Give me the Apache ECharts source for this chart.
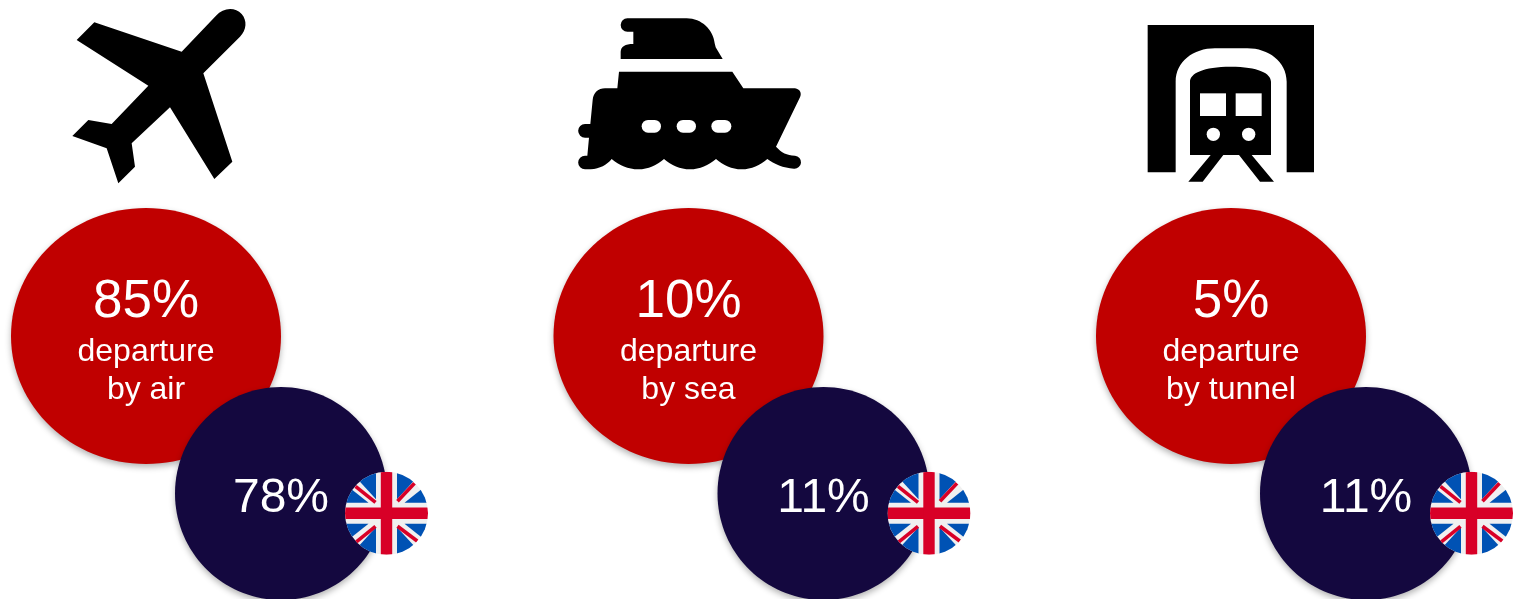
<!DOCTYPE html>
<html>
<head>
<meta charset="utf-8">
<style>html,body{margin:0;padding:0;background:#fff}#chart{width:1515px;height:599px}</style>
<script src="https://cdn.jsdelivr.net/npm/echarts@6/dist/echarts.min.js"></script>
</head>
<body>
<div id="chart"></div>
<script>
// Departure share by mode of transport, with the UK share of each mode
const modes = ['air', 'sea', 'tunnel'];
const departureShare = [85, 10, 5];
const ukShare = [78, 11, 11];

const RED = '#C00000', NAVY = '#14083F', FONT = '"Liberation Sans", Arial, sans-serif';

// Icon outlines, drawn on a 3x working grid
const planePath = 'M103,67 L365,155 L468,47 C490,22 525,20 545,42 C562,62 560,90 540,110 L430,220 L517,485 L463,537 L330,322 L215,430 L225,500 L175,550 L140,445 L37,408 L85,360 L155,372 L265,257 L50,120 Z';
const shipCabinPath = 'M172,25 L350,25 C395,25 430,60 434,100 L437,112 L458,147 L152,147 L152,125 C153,110 165,102 190,102 L190,65 L172,65 A20,20 0 0 1 172,25 Z';
const shipHullPath = 'M147,185 L487,185 L520,235 L675,235 C690,237 696,250 690,262 L618,410 C635,428 650,436 675,437 A19,19 0 0 1 672,476 C640,474 612,462 592,447 C570,466 545,478 515,478 C485,478 460,466 438,447 C415,466 390,478 360,478 C330,478 304,466 282,447 C260,466 235,478 205,478 C175,478 147,466 125,447 C110,465 90,476 62,478 L45,478 A20,20 0 0 1 45,437 L52,437 L57,383 L45,383 A20,20 0 0 1 45,342 L61,342 L68,270 C70,248 85,235 105,235 L142,235 Z';
const tunnelPath = 'M23,30 L522,30 L522,472 L440,472 L440,200 C440,140 385,100 322,100 L225,100 C160,100 107,140 107,200 L107,472 L23,472 Z';
const trainPath = 'M150,420 L150,200 C150,175 190,155 272,155 C355,155 393,175 393,200 L393,420 L335,420 L402,500 L360,500 L297,420 L250,420 L188,500 L145,500 L212,420 Z';

const solid = (fill) => ({ fill: fill, stroke: null });
const shaded = (fill) => ({
  fill: fill, stroke: null,
  shadowColor: 'rgba(0,0,0,0.3)', shadowBlur: 6, shadowOffsetX: 0, shadowOffsetY: 3
});

function iconFor(index, cx) {
  const at = { scaleX: 1 / 3, scaleY: 1 / 3 };
  const path = (d, fill) => ({ type: 'path', shape: { pathData: d }, style: solid(fill) });
  const box = (x, y, w, h, r) => ({ type: 'rect', shape: { x, y, width: w, height: h, r: r || 0 }, style: solid('#fff') });
  const dot = (x, y, r) => ({ type: 'circle', shape: { cx: x, cy: y, r }, style: solid('#fff') });
  if (index === 0) {
    return { type: 'group', x: cx - 86, y: 0, ...at, children: [path(planePath, '#000')] };
  }
  if (index === 1) {
    return {
      type: 'group', x: cx - 118.5, y: 10, ...at,
      children: [
        path(shipCabinPath, '#000'), path(shipHullPath, '#000'),
        box(215, 330, 58, 38, 19), box(320, 330, 58, 38, 19), box(424, 330, 60, 38, 19)
      ]
    };
  }
  return {
    type: 'group', x: cx - 91, y: 15, ...at,
    children: [
      path(tunnelPath, '#000'), path(trainPath, '#000'),
      box(180, 235, 78, 68), box(287, 235, 78, 68),
      dot(220, 358, 20), dot(326, 358, 20)
    ]
  };
}

// Round Union Jack badge, centred on its own origin
function flagAt(x, y) {
  const R = 41.5;
  const white = '#F0F0F0', red = '#D80027', blue = '#0052B4';
  const rect = (a, b, w, h, c) => ({ type: 'rect', shape: { x: a, y: b, width: w, height: h }, style: solid(c) });
  const poly = (pts, c) => ({ type: 'polygon', shape: { points: pts }, style: solid(c) });
  const stripe = (x1, y1, x2, y2) => ({
    type: 'line', shape: { x1, y1, x2, y2 }, style: { stroke: red, lineWidth: 3.6, fill: null }
  });
  const fields = [];
  // The two blue fields of each quadrant, mirrored by sign
  [[-1, -1], [1, -1], [-1, 1], [1, 1]].forEach(([sx, sy]) => {
    fields.push(poly([[sx * 10.5, sy * 50], [sx * 10.5, sy * 14], [sx * 27, sy * 32], [sx * 27, sy * 50]], blue));
    fields.push(poly([[sx * 50, sy * 10.5], [sx * 18, sy * 10.5], [sx * 35, sy * 24], [sx * 50, sy * 24]], blue));
  });
  return {
    type: 'group', x, y,
    clipPath: { type: 'circle', shape: { cx: 0, cy: 0, r: R } },
    children: [
      rect(-R, -R, 2 * R, 2 * R, white),
      ...fields,
      stripe(-31, -27, -11, -11), stripe(11, -12, 28, -30),
      stripe(-32, 30, -11, 13), stripe(11, 13, 31, 28),
      rect(-R, -5.7, 2 * R, 11.4, red), rect(-5.7, -R, 11.4, 2 * R, red)
    ]
  };
}

function label(text, x, y, size) {
  return {
    type: 'text',
    style: {
      text, x, y, fill: '#fff', align: 'center', verticalAlign: 'middle',
      font: size + 'px ' + FONT
    }
  };
}

function renderItem(params, api) {
  const i = api.value(0);
  const cx = api.coord([i, 0])[0];
  return {
    type: 'group',
    children: [
      iconFor(i, cx),
      { type: 'ellipse', shape: { cx, cy: 336, rx: 135, ry: 128 }, style: shaded(RED) },
      label(api.value(1) + '%', cx, 302, 53),
      label('departure', cx, 352, 32),
      label('by ' + modes[i], cx, 390, 32),
      { type: 'ellipse', shape: { cx: cx + 135, cy: 493.5, rx: 106, ry: 106.5 }, style: shaded(NAVY) },
      label(api.value(2) + '%', cx + 135, 498.5, 48),
      flagAt(cx + 240.5, 513.3)
    ]
  };
}

const chart = echarts.init(document.getElementById('chart'), null, { renderer: 'canvas' });
chart.setOption({
  animation: false,
  backgroundColor: '#fff',
  grid: { left: -125.25, width: 1627.5, top: 0, height: 599, outerBoundsMode: 'none' },
  xAxis: { type: 'category', data: modes, show: false },
  yAxis: { type: 'value', min: 0, max: 599, inverse: true, show: false },
  series: [{
    type: 'custom',
    silent: true,
    clip: false,
    renderItem,
    data: modes.map((m, i) => [i, departureShare[i], ukShare[i]]),
    encode: { x: 0, y: -1 }
  }]
});
</script>
</body>
</html>
